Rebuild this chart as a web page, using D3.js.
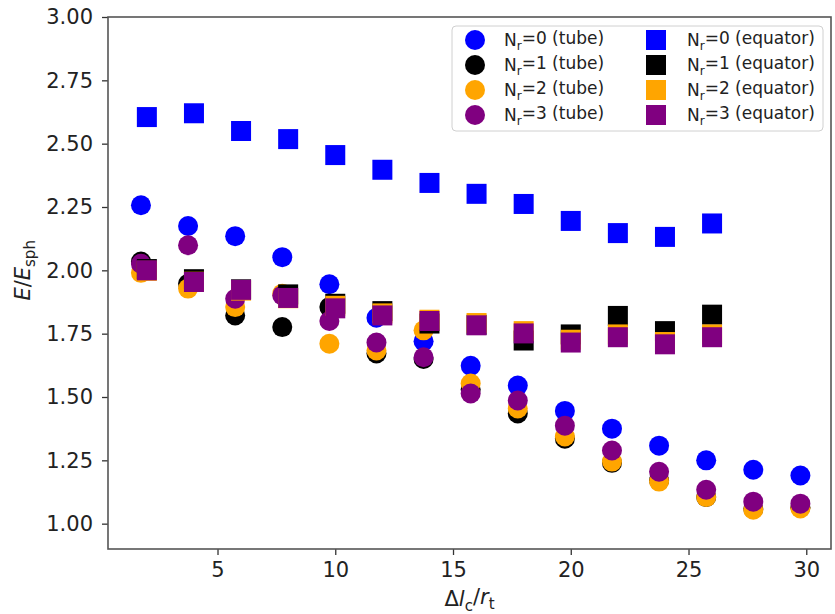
<!DOCTYPE html>
<html>
<head>
<meta charset="utf-8">
<script src="https://cdn.jsdelivr.net/npm/d3@7"></script>
<style>
    body { margin: 0; background: #fff; }
    text { font-family: "DejaVu Sans", sans-serif; }
</style>
</head>
<body>
<script>
// x positions: tube points sit a little left of the equator points
var tubeX = [1.75, 3.75, 5.75, 7.75, 9.75, 11.75, 13.75, 15.75, 17.75,
    19.75, 21.75, 23.75, 25.75, 27.75, 29.75];
var equatorX = [2, 4, 6, 8, 10, 12, 14, 16, 18, 20, 22, 24, 26];

// E/E_sph, tube
var tubeN0 = [2.257, 2.175, 2.135, 2.052, 1.945, 1.813, 1.72, 1.623, 1.545,
    1.445, 1.375, 1.308, 1.25, 1.213, 1.19];
var tubeN1 = [2.035, 1.947, 1.822, 1.776, 1.855, 1.672, 1.65, 1.53, 1.435,
    1.335, 1.24, 1.17, 1.105, 1.058, 1.065];
var tubeN2 = [1.99, 1.928, 1.855, 1.908, 1.71, 1.684, 1.763, 1.553, 1.455,
    1.344, 1.245, 1.166, 1.105, 1.055, 1.06];
var tubeN3 = [2.026, 2.099, 1.888, 1.901, 1.80, 1.715, 1.657, 1.514, 1.486,
    1.387, 1.289, 1.205, 1.134, 1.087, 1.079];

// E/E_sph, equator
var eqN0 = [2.605, 2.62, 2.55, 2.518, 2.455, 2.397, 2.345, 2.302, 2.262,
    2.195, 2.147, 2.132, 2.185];
var eqN1 = [2.005, 1.965, 1.925, 1.905, 1.868, 1.839, 1.79, 1.785, 1.723,
    1.747, 1.82, 1.76, 1.825];
var eqN2 = [1.998, 1.955, 1.92, 1.89, 1.86, 1.83, 1.805, 1.792, 1.76,
    1.726, 1.747, 1.717, 1.747];
var eqN3 = [2.0, 1.954, 1.923, 1.891, 1.85, 1.822, 1.80, 1.783, 1.751,
    1.715, 1.736, 1.708, 1.736];

var colors = ["#0000ff", "#000000", "#ffa500", "#800080"];
var nrLabels = ["0", "1", "2", "3"];
var xTicks = [5, 10, 15, 20, 25, 30];
var yTicks = [1.00, 1.25, 1.50, 1.75, 2.00, 2.25, 2.50, 2.75, 3.00];

var W = 835, H = 614;
var margin = {left: 108, right: 4, top: 17, bottom: 65};

var svg = d3.select("body").append("svg")
    .attr("width", W)
    .attr("height", H);

var x = d3.scaleLinear()
    .domain([0.35, 31.05])
    .range([margin.left, W - margin.right]);
var y = d3.scaleLinear()
    .domain([0.9, 3.0])
    .range([H - margin.bottom, margin.top]);

//Axes
var xAxis = svg.append("g")
    .attr("transform", "translate(0," + (H - margin.bottom) + ")")
    .call(d3.axisBottom(x).tickValues(xTicks).tickSize(6).tickPadding(7)
        .tickFormat(d3.format("d")));
var yAxis = svg.append("g")
    .attr("transform", "translate(" + margin.left + ",0)")
    .call(d3.axisLeft(y).tickValues(yTicks).tickSize(6).tickPadding(9)
        .tickFormat(d3.format(".2f")));

[xAxis, yAxis].forEach(function(a) {
    a.select(".domain").remove();
    a.selectAll("line").attr("stroke", "#333").attr("stroke-width", 1.3);
    a.selectAll("text")
        .attr("fill", "#222")
        .style("font-size", "21px");
});

//Frame
svg.append("rect")
    .attr("x", margin.left)
    .attr("y", margin.top)
    .attr("width", W - margin.left - margin.right)
    .attr("height", H - margin.top - margin.bottom)
    .attr("fill", "none")
    .attr("stroke", "#555")
    .attr("stroke-width", 1.6);

var plot = svg.append("g");
var tubeSeries = [tubeN0, tubeN1, tubeN2, tubeN3];
var eqSeries = [eqN0, eqN1, eqN2, eqN3];

//Circles for tube
tubeSeries.forEach(function(vals, i) {
    plot.append("g").selectAll("circle")
        .data(vals)
        .enter().append("circle")
        .attr("cx", function(d, j) { return x(tubeX[j]); })
        .attr("cy", function(d) { return y(d); })
        .attr("r", 10)
        .attr("fill", colors[i]);
});

//Squares for equator
var side = 20;
eqSeries.forEach(function(vals, i) {
    plot.append("g").selectAll("rect")
        .data(vals)
        .enter().append("rect")
        .attr("x", function(d, j) { return x(equatorX[j]) - side / 2; })
        .attr("y", function(d) { return y(d) - side / 2; })
        .attr("width", side)
        .attr("height", side)
        .attr("fill", colors[i]);
});

//Legend
var legend = svg.append("g").attr("transform", "translate(452,26)");
legend.append("rect")
    .attr("width", 371)
    .attr("height", 105)
    .attr("rx", 4)
    .attr("fill", "#fff")
    .attr("fill-opacity", 0.8)
    .attr("stroke", "#d0d0d0");

function legendLabel(g, tx, ty, nr, kind) {
    var t = g.append("text")
        .attr("x", tx)
        .attr("y", ty)
        .attr("dy", "0.35em")
        .attr("fill", "#222")
        .style("font-size", "17px");
    t.append("tspan").text("N");
    t.append("tspan").attr("dy", "0.3em").style("font-size", "12px")
        .text("r");
    t.append("tspan").attr("dy", "-0.3em").text("=" + nr + " (" + kind + ")");
}

nrLabels.forEach(function(nr, i) {
    var ry = 14 + i * 25;
    legend.append("circle")
        .attr("cx", 23)
        .attr("cy", ry)
        .attr("r", 10)
        .attr("fill", colors[i]);
    legendLabel(legend, 52, ry, nr, "tube");
    legend.append("rect")
        .attr("x", 194)
        .attr("y", ry - 10)
        .attr("width", 20)
        .attr("height", 20)
        .attr("fill", colors[i]);
    legendLabel(legend, 235, ry, nr, "equator");
});

//Axis labels
var xl = svg.append("text")
    .attr("x", x.range()[0] + (x.range()[1] - x.range()[0]) / 2)
    .attr("y", 606)
    .attr("text-anchor", "middle")
    .attr("fill", "#222")
    .style("font-size", "21px");
xl.append("tspan").text("\u0394");
xl.append("tspan").style("font-style", "italic").text("l");
xl.append("tspan").attr("dy", "0.3em").style("font-size", "15px").text("c");
xl.append("tspan").attr("dy", "-0.3em").text("/");
xl.append("tspan").style("font-style", "italic").text("r");
xl.append("tspan").attr("dy", "0.3em").style("font-size", "15px").text("t");

var yl = svg.append("text")
    .attr("transform", "translate(30," + y(2.0) + ") rotate(-90)")
    .attr("text-anchor", "middle")
    .attr("fill", "#222")
    .style("font-size", "21px");
yl.append("tspan").style("font-style", "italic").text("E");
yl.append("tspan").text("/");
yl.append("tspan").style("font-style", "italic").text("E");
yl.append("tspan").attr("dy", "0.3em").style("font-size", "15px")
    .text("sph");
</script>
</body>
</html>
